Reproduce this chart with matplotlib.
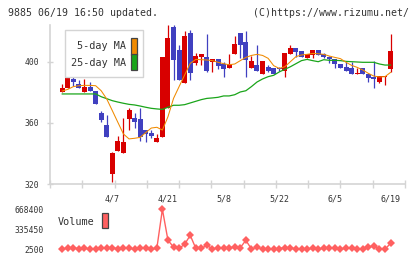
import matplotlib
matplotlib.use('Agg')
import matplotlib.pyplot as plt
import matplotlib.patches as patches
import numpy as np

# --- data ---
dates = ['4/7', '4/21', '5/8', '5/22', '6/5', '6/19']
date_idx = [10, 20, 30, 40, 50, 60]

opens = [379.2, 380.4, 382.6, 388.7, 385.4, 380.4, 383.4, 381.0, 366.2, 358.6,
         326.6, 341.8, 340.5, 362.7, 363.0, 362.5, 355.3, 353.2, 347.3, 351.0,
         369.5, 423.0, 407.6, 386.3, 418.5, 399.3, 403.3, 403.3, 400.0, 401.7,
         398.5, 396.1, 405.0, 418.5, 412.6, 396.1, 397.8, 391.9, 396.5, 396.1,
         396.1, 394.1, 405.0, 408.7, 406.8, 402.6, 404.6, 407.6, 405.0, 403.3,
         401.7, 398.5, 396.5, 395.6, 391.7, 395.6, 391.9, 390.2, 386.9, 390.2,
         395.5]
closes = [379.5, 382.8, 389.8, 386.9, 383.0, 383.7, 381.0, 372.1, 361.9, 351.0,
          340.5, 348.1, 347.5, 368.4, 360.8, 351.0, 352.7, 351.6, 350.3, 403.1,
          415.3, 401.1, 388.0, 416.8, 392.4, 403.7, 405.0, 393.9, 401.7, 397.4,
          395.2, 398.7, 411.5, 410.9, 401.1, 400.4, 393.9, 400.2, 394.1, 391.9,
          395.0, 405.7, 408.7, 406.3, 403.3, 405.0, 407.6, 404.6, 402.8, 401.7,
          398.2, 396.1, 394.1, 391.7, 392.8, 391.7, 389.5, 388.5, 390.6, 390.6,
          407.0]
highs = [379.5, 385.3, 390.4, 391.9, 388.0, 388.5, 386.7, 381.0, 367.5, 365.1,
         341.0, 351.4, 363.0, 369.5, 366.2, 369.9, 355.3, 355.3, 352.5, 403.1,
         424.0, 424.0, 410.9, 420.2, 420.7, 405.4, 405.0, 418.0, 401.7, 401.7,
         400.0, 405.0, 416.8, 418.5, 420.0, 403.5, 410.9, 400.2, 397.8, 396.1,
         396.8, 405.7, 410.9, 408.7, 406.8, 405.0, 407.6, 407.6, 405.9, 403.9,
         401.7, 398.5, 399.5, 400.0, 396.1, 395.6, 391.9, 400.5, 390.6, 390.8,
         418.0]
lows = [379.2, 380.4, 382.6, 384.3, 382.6, 380.4, 381.0, 372.1, 360.8, 351.0,
        321.6, 341.8, 340.5, 355.3, 356.9, 348.1, 347.7, 349.9, 347.3, 351.0,
        369.5, 388.0, 388.0, 386.3, 388.0, 397.8, 397.8, 393.5, 393.5, 395.2,
        390.2, 396.1, 405.0, 402.4, 390.2, 396.1, 393.9, 391.9, 393.5, 391.9,
        394.1, 390.2, 405.0, 403.3, 403.3, 402.6, 402.6, 404.6, 402.6, 398.9,
        396.1, 396.1, 394.1, 391.7, 391.7, 391.7, 386.4, 382.6, 386.3, 384.9,
        393.5]

ma5 = [380.8, 381.9, 383.7, 384.3, 384.5, 384.5, 384.3, 381.0, 375.6, 368.0,
       360.3, 352.7, 349.5, 349.9, 350.5, 353.6, 356.6, 357.1, 355.3, 364.0,
       376.0, 383.7, 391.3, 398.9, 401.5, 401.3, 401.1, 400.7, 399.6, 398.7,
       398.0, 398.5, 400.7, 402.8, 404.1, 404.8, 404.1, 402.2, 397.4, 395.6,
       396.7, 400.0, 403.3, 404.4, 404.8, 405.4, 405.2, 404.8, 403.7, 402.8,
       402.0, 399.6, 397.6, 396.3, 394.6, 392.4, 390.6, 390.0, 390.2, 393.0]
ma25 = [378.9, 378.9, 378.9, 378.9, 378.9, 378.9, 378.9, 377.1, 375.8, 374.5,
        373.6, 372.8, 372.1, 371.7, 371.0, 370.2, 369.5, 369.1, 368.8, 370.2,
        371.5, 371.5, 371.9, 373.0, 374.1, 375.2, 376.0, 376.3, 376.7, 377.6,
        377.6, 378.4, 380.2, 381.0, 383.7, 386.7, 388.7, 390.2, 391.1, 393.3,
        395.0, 396.7, 398.7, 400.7, 401.5, 400.7, 400.0, 401.3, 400.9, 400.9,
        400.7, 400.2, 400.0, 399.8, 399.6, 399.6, 399.6, 398.5, 397.8, 397.8]

volume = [8000, 19000, 30000, 8000, 19000, 8000, 8000, 19000, 30000, 30000,
          8000, 19000, 19000, 8000, 19000, 19000, 8000, 19000, 668400, 152000,
          41000, 19000, 86000, 236000, 19000, 19000, 69000, 8000, 25000, 19000,
          25000, 41000, 30000, 152000, 8000, 36000, 8000, 8000, 8000, 14000,
          30000, 19000, 14000, 8000, 8000, 19000, 8000, 19000, 30000, 19000,
          8000, 19000, 25000, 8000, 8000, 41000, 58000, 14000, 2500, 102000]

RED = '#d80000'
BLUE = '#4040c0'
ORANGE = '#f08a00'
GREEN = '#1aa51a'
VOLC = '#ff6060'
AXC = '#d4d4d4'
TXT = '#333333'
MONO = 'DejaVu Sans Mono'

W, H = 420, 259
fig = plt.figure(figsize=(W / 100, H / 100), dpi=100)
fig.patch.set_facecolor('white')


def frac(x0, y0, x1, y1):
    # pixel box -> figure fraction [left, bottom, width, height]
    return [x0 / W, 1 - y1 / H, (x1 - x0) / W, (y1 - y0) / H]


xlim = (-1.2, 62.6)

# ---------------- price panel ----------------
ax = fig.add_axes(frac(50, 25, 405, 184))
n = len(closes)
idx = np.arange(n)
o = np.array(opens)
c = np.array(closes)
up = c >= o
cols = np.where(up, RED, BLUE)
body_lo = np.minimum(o, c)
body_h = np.maximum(np.abs(c - o), 0.6)

ax.vlines(idx, lows, highs, colors=cols, linewidth=0.9, zorder=2)
ax.bar(idx, body_h, bottom=body_lo, width=0.9, color=cols, linewidth=0, zorder=3)

ax.plot(idx[1:], ma25, color=GREEN, lw=0.9, zorder=4)
ax.plot(idx[1:], ma5, color=ORANGE, lw=0.75, zorder=5)

ax.set_xlim(*xlim)
ax.set_ylim(320, 424)
for s in ['top', 'right']:
    ax.spines[s].set_visible(False)
for s in ['left', 'bottom']:
    ax.spines[s].set_color(AXC)
    ax.spines[s].set_linewidth(1.2)

ax.set_yticks([320, 360, 400])
ax.set_yticklabels(['320', '360', '400'], fontfamily=MONO, fontsize=5.8, color=TXT)
ax.tick_params(axis='y', direction='inout', length=4.8, width=1, color=AXC, pad=5.5)

ax.set_xticks(date_idx)
ax.set_xticklabels(dates, fontfamily=MONO, fontsize=6, color=TXT)
ax.tick_params(axis='x', which='major', length=0, pad=7.5)
ax.set_xticks(np.linspace(xlim[0], xlim[1], 12), minor=True)
ax.tick_params(axis='x', which='minor', direction='inout', length=6, width=1, color=AXC)

# legend box
fig.patches.append(patches.Rectangle((65 / W, 1 - 77 / H), 78 / W, 47 / H,
                                     transform=fig.transFigure, facecolor='white',
                                     edgecolor=AXC, linewidth=1.0, zorder=10))
fig.text(126 / W, 1 - 46 / H, '5-day MA', ha='right', va='center',
         fontfamily=MONO, fontsize=7.3, color=TXT, zorder=11)
fig.text(126 / W, 1 - 63 / H, '25-day MA', ha='right', va='center',
         fontfamily=MONO, fontsize=7.3, color=TXT, zorder=11)
fig.patches.append(patches.Rectangle((131 / W, 1 - 55 / H), 6 / W, 17 / H,
                                     transform=fig.transFigure, facecolor=ORANGE,
                                     edgecolor='#444444', linewidth=0.9, zorder=11))
fig.patches.append(patches.Rectangle((131 / W, 1 - 70 / H), 6 / W, 16 / H,
                                     transform=fig.transFigure, facecolor=GREEN,
                                     edgecolor='#444444', linewidth=0.9, zorder=11))

# ---------------- volume panel ----------------
av = fig.add_axes(frac(50, 209.3, 405, 249.3))
av.plot(idx[1:], volume, color=VOLC, lw=1.0, marker='D', markersize=4.2,
        markeredgewidth=0, clip_on=False)
av.set_xlim(*xlim)
av.set_ylim(2500, 668400)
for s in av.spines.values():
    s.set_visible(False)
av.set_xticks([])
av.set_yticks([2500, 335450, 668400])
av.set_yticklabels(['2500', '335450', '668400'], fontfamily=MONO, fontsize=5.8, color=TXT)
av.tick_params(axis='y', length=0, pad=4.3)
av.patch.set_alpha(0)

fig.text(58 / W, 1 - 221.7 / H, 'Volume', ha='left', va='center',
         fontfamily=MONO, fontsize=7.3, color=TXT)
fig.patches.append(patches.Rectangle((102 / W, 1 - 228 / H), 6 / W, 15 / H,
                                     transform=fig.transFigure, facecolor=VOLC,
                                     edgecolor='#444444', linewidth=0.9))

# header
fig.text(8 / W, 1 - 12.5 / H, '9885 06/19 16:50 updated.', ha='left', va='center',
         fontfamily=MONO, fontsize=7.1, color=TXT)
fig.text(409 / W, 1 - 12.5 / H, '(C)https://www.rizumu.net/', ha='right', va='center',
         fontfamily=MONO, fontsize=7.1, color=TXT)

fig.savefig('out.png', dpi=100, facecolor='white')
